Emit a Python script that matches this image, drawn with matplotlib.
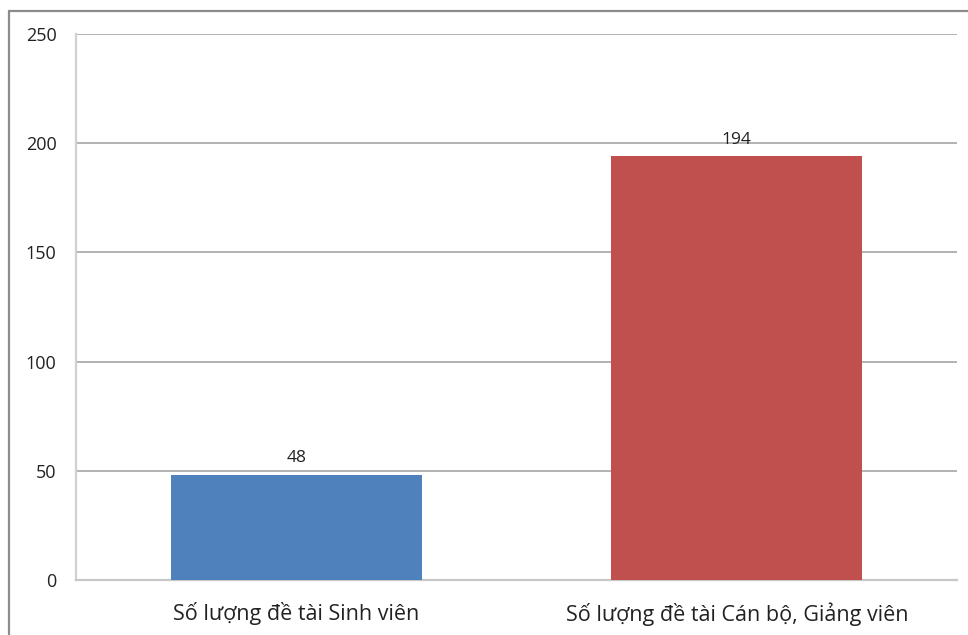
import matplotlib.pyplot as plt
from matplotlib.patches import Rectangle

categories = ["Số lượng đề tài Sinh viên", "Số lượng đề tài Cán bộ, Giảng viên"]
values = [48, 194]
colors = ["#4F81BD", "#C0504D"]
yticks = [0, 50, 100, 150, 200, 250]

plt.rcParams['font.family'] = ['Open Sans', 'DejaVu Sans']

fig = plt.figure(figsize=(9.68, 6.35), dpi=100)
ax = fig.add_axes([76 / 968, 1 - 580 / 635, (957 - 76) / 968, (580 - 34) / 635])

# outer chart border (cut off at right and bottom like the screenshot)
fig.patches.append(Rectangle((9 / 968, -0.1), 1.2, 1 - 11 / 635 + 0.1,
                             transform=fig.transFigure, fill=False,
                             edgecolor="#8c8c8c", linewidth=1.6))

x = range(len(categories))
bars = ax.bar(x, values, width=0.57, color=colors, zorder=3)
for b, v in zip(bars, values):
    ax.text(b.get_x() + b.get_width() / 2, v + 4, str(v),
            ha="center", va="bottom", fontsize=12.5, color="#222222")

ax.set_xlim(-0.5, 1.5)
ax.set_ylim(0, 250)
ax.set_yticks(yticks)
ax.set_xticks(list(x))
ax.set_xticklabels(categories, fontsize=15.5, color="#222222")
ax.tick_params(axis="y", length=0, pad=14, labelsize=13, labelcolor="#222222")
ax.tick_params(axis="x", length=0, pad=16)
ax.grid(axis="y", color="#a6a6a6", linewidth=1.2, zorder=0)

for s in ["top", "right"]:
    ax.spines[s].set_visible(False)
ax.spines["left"].set_color("#d0d0d0")
ax.spines["left"].set_linewidth(1.6)
ax.spines["bottom"].set_color("#c8c8c8")
ax.spines["bottom"].set_linewidth(1.6)

fig.savefig("out.png", dpi=100)
